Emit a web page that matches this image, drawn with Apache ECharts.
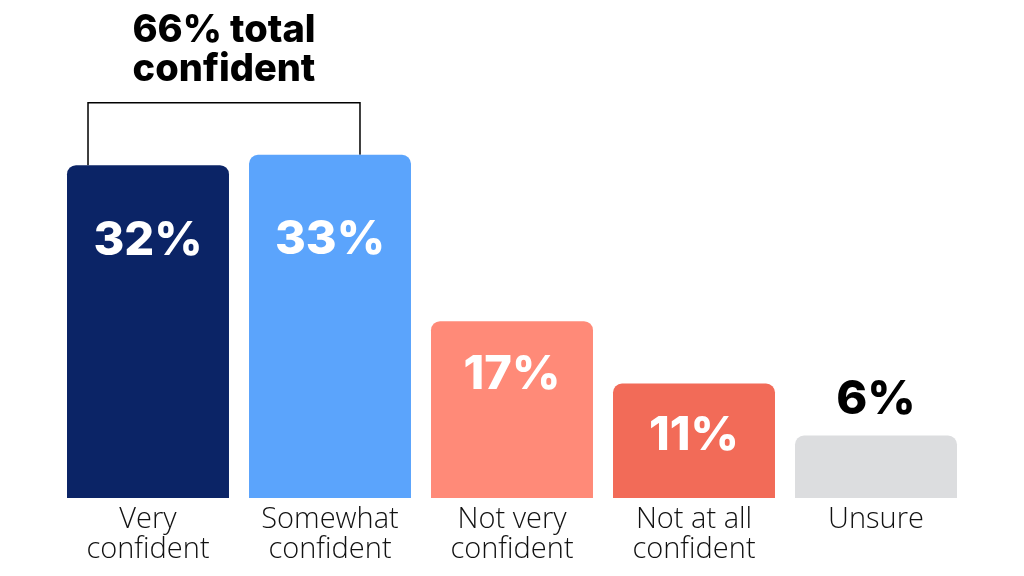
<!DOCTYPE html>
<html>
<head>
<meta charset="utf-8">
<script src="https://cdn.jsdelivr.net/npm/echarts@6/dist/echarts.min.js"></script>
<style>
html,body{margin:0;padding:0;background:#fff;}
#c{width:1024px;height:576px;}
</style>
</head>
<body>
<div id="c"></div>
<script>
const categories = ["Very\nconfident", "Somewhat\nconfident", "Not very\nconfident", "Not at all\nconfident", "Unsure"];
const values = [32, 33, 17, 11, 6];
const valueLabels = ["32%", "33%", "17%", "11%", "6%"];
const barColors = ["#0B2466", "#5BA4FC", "#FF8A78", "#F26B58", "#DCDDDF"];
const annotationText = "66% total\nconfident";

const labelDistances = [52, 62, 30, 29, 12];
const insideFlags = [true, true, true, true, false];

const chart = echarts.init(document.getElementById('c'));
const data = values.map((v, i) => ({
  value: v,
  itemStyle: { color: barColors[i], borderRadius: [9, 9, 0, 0] },
  label: {
    show: true,
    formatter: valueLabels[i],
    position: insideFlags[i] ? 'insideTop' : 'top',
    distance: labelDistances[i],
    color: insideFlags[i] ? '#ffffff' : '#000000'
  }
}));

chart.setOption({
  animation: false,
  backgroundColor: '#ffffff',
  grid: { left: 57, right: 57, top: 82, bottom: 78 },
  xAxis: {
    type: 'category',
    data: categories,
    axisLine: { show: false },
    axisTick: { show: false },
    axisLabel: {
      color: '#111111',
      fontFamily: 'Open Sans',
      fontWeight: 300,
      fontSize: 29,
      lineHeight: 30,
      margin: 7,
      interval: 0
    }
  },
  yAxis: {
    type: 'value',
    min: 0,
    max: 40,
    show: false,
    splitLine: { show: false }
  },
  series: [{
    type: 'bar',
    data: data,
    barCategoryGap: '11%',
    label: {
      fontFamily: 'Inter',
      fontWeight: 800,
      fontSize: 47
    }
  }]
});

// bracket annotation from bar tops
const p0 = chart.convertToPixel({ seriesIndex: 0 }, [0, values[0]]);
const p1 = chart.convertToPixel({ seriesIndex: 0 }, [1, values[1]]);
const bandW = chart.convertToPixel({ seriesIndex: 0 }, [1, 0])[0] - chart.convertToPixel({ seriesIndex: 0 }, [0, 0])[0];
const barW = bandW * 0.89;
const xL = p0[0] - barW / 2 + 21;
const xR = p1[0] + barW / 2 - 51;
const yTop = p1[1] - 52;
chart.setOption({
  graphic: [
    {
      type: 'polyline',
      shape: { points: [[xL, p0[1]], [xL, yTop], [xR, yTop], [xR, p1[1]]] },
      style: { stroke: '#000000', lineWidth: 1.5, fill: null }
    },
    {
      type: 'text',
      x: (xL + xR) / 2,
      y: 11,
      style: {
        text: annotationText,
        fill: '#000000',
        font: '800 38px Inter',
        lineHeight: 39,
        align: 'center',
        verticalAlign: 'top'
      }
    }
  ]
});
</script>
</body>
</html>
